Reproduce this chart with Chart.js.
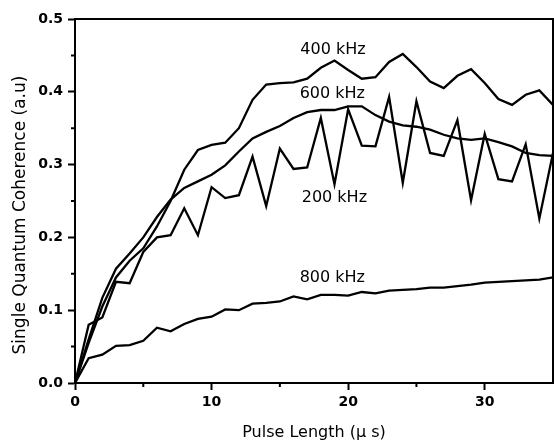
<!DOCTYPE html>
<html lang="en">
<head>
    <meta charset="UTF-8">
    <title>Single Quantum Coherence vs Pulse Length</title>
    <script src="https://cdn.jsdelivr.net/npm/chart.js"></script>
    <style>
        body { margin: 0; background: #fff; }
        canvas { display: block; }
    </style>
</head>
<body>
    <canvas id="sqcChart" width="554" height="442"></canvas>
    <script>
        // pulse length in microseconds
        var pulseLengths = [0, 1, 2, 3, 4, 5, 6, 7, 8, 9, 10, 11, 12, 13, 14, 15, 16, 17,
                            18, 19, 20, 21, 22, 23, 24, 25, 26, 27, 28, 29, 30, 31, 32, 33, 34, 35];

        var sqc400 = [0, 0.055, 0.105, 0.145, 0.168, 0.185, 0.215, 0.25, 0.293, 0.320, 0.327, 0.330,
                      0.350, 0.389, 0.410, 0.412, 0.413, 0.418, 0.433, 0.443, 0.430, 0.418, 0.420, 0.441,
                      0.452, 0.434, 0.414, 0.405, 0.422, 0.431, 0.412, 0.390, 0.382, 0.396, 0.402, 0.382];

        var sqc600 = [0, 0.06, 0.117, 0.157, 0.178, 0.2, 0.228, 0.252, 0.268, 0.277, 0.286, 0.299,
                      0.318, 0.336, 0.345, 0.353, 0.364, 0.372, 0.375, 0.375, 0.380, 0.380, 0.368, 0.359,
                      0.354, 0.352, 0.348, 0.341, 0.336, 0.334, 0.336, 0.331, 0.325, 0.316, 0.313, 0.312];

        var sqc200 = [0, 0.080, 0.09, 0.139, 0.137, 0.180, 0.200, 0.203, 0.240, 0.203, 0.269, 0.254,
                      0.258, 0.311, 0.243, 0.322, 0.294, 0.296, 0.364, 0.273, 0.376, 0.326, 0.325, 0.393,
                      0.275, 0.387, 0.316, 0.312, 0.361, 0.251, 0.342, 0.280, 0.277, 0.328, 0.226, 0.316];

        var sqc800 = [0, 0.034, 0.039, 0.051, 0.052, 0.058, 0.076, 0.071, 0.081, 0.088, 0.091, 0.101,
                      0.100, 0.109, 0.110, 0.112, 0.119, 0.115, 0.121, 0.121, 0.120, 0.125, 0.123, 0.127,
                      0.128, 0.129, 0.131, 0.131, 0.133, 0.135, 0.138, 0.139, 0.140, 0.141, 0.142, 0.145];

        var seriesNames = ['400 kHz', '600 kHz', '200 kHz', '800 kHz'];
        var seriesValues = [sqc400, sqc600, sqc200, sqc800];

        var xTicks = [0, 10, 20, 30];
        var yTicks = [0, 0.1, 0.2, 0.3, 0.4, 0.5];

        // where the curve names sit (left edge, middle), in data units
        var notePlaces = {
            '400 kHz': [16.5, 0.457],
            '600 kHz': [16.45, 0.397],
            '200 kHz': [16.6, 0.254],
            '800 kHz': [16.45, 0.145]
        };

        function toPoints(ys) {
            return pulseLengths.map(function (x, i) { return { x: x, y: ys[i] }; });
        }

        var datasets = seriesNames.map(function (name, i) {
            return {
                label: name,
                data: toPoints(seriesValues[i]),
                borderColor: '#000',
                borderWidth: 2.3,
                pointRadius: 0,
                tension: 0,
                fill: false
            };
        });

        // box round the plot, minor ticks, curve names, y title
        var extras = {
            id: 'extras',
            afterDraw: function (chart) {
                var ctx = chart.ctx;
                var a = chart.chartArea;
                var xs = chart.scales.x, ys = chart.scales.y;
                ctx.save();
                ctx.strokeStyle = '#000';
                ctx.lineWidth = 2;
                ctx.strokeRect(a.left, a.top, a.right - a.left, a.bottom - a.top);

                ctx.beginPath();
                [5, 15, 25].forEach(function (v) {
                    var px = xs.getPixelForValue(v);
                    ctx.moveTo(px, a.bottom);
                    ctx.lineTo(px, a.bottom + 4);
                });
                [0.05, 0.15, 0.25, 0.35, 0.45].forEach(function (v) {
                    var py = ys.getPixelForValue(v);
                    ctx.moveTo(a.left, py);
                    ctx.lineTo(a.left - 4, py);
                });
                ctx.stroke();

                ctx.fillStyle = '#000';
                ctx.font = '16px "DejaVu Sans"';
                ctx.textAlign = 'left';
                ctx.textBaseline = 'middle';
                seriesNames.forEach(function (name) {
                    var p = notePlaces[name];
                    ctx.fillText(name, xs.getPixelForValue(p[0]), ys.getPixelForValue(p[1]));
                });

                ctx.font = '17px "DejaVu Sans"';
                ctx.translate(21, 215);
                ctx.rotate(-Math.PI / 2);
                ctx.textAlign = 'center';
                ctx.fillText('Single Quantum Coherence (a.u)', 0, 0);
                ctx.restore();
            }
        };

        Chart.defaults.font.family = '"DejaVu Sans"';
        Chart.defaults.color = '#000';

        new Chart(document.getElementById('sqcChart'), {
            type: 'line',
            data: { datasets: datasets },
            options: {
                responsive: false,
                animation: false,
                layout: { padding: { top: 19, right: 1, left: 0, bottom: 0 } },
                plugins: { legend: { display: false }, tooltip: { enabled: false } },
                scales: {
                    x: {
                        type: 'linear',
                        min: 0,
                        max: 35,
                        afterBuildTicks: function (scale) {
                            scale.ticks = xTicks.map(function (v) { return { value: v }; });
                        },
                        afterFit: function (scale) { scale.height = 59; },
                        ticks: { font: { size: 14, weight: 'bold' }, padding: 4, maxRotation: 0 },
                        grid: { drawOnChartArea: false, tickLength: 7, tickWidth: 2, tickColor: '#000' },
                        border: { color: '#000', width: 2 },
                        title: {
                            display: true,
                            text: 'Pulse Length (\u03bc s)',
                            font: { size: 16 },
                            padding: { top: 0, bottom: 0 }
                        }
                    },
                    y: {
                        min: 0,
                        max: 0.5,
                        afterBuildTicks: function (scale) {
                            scale.ticks = yTicks.map(function (v) { return { value: v }; });
                        },
                        afterFit: function (scale) { scale.width = 75; },
                        ticks: {
                            font: { size: 14, weight: 'bold' },
                            padding: 5,
                            callback: function (v) { return v.toFixed(1); }
                        },
                        grid: { drawOnChartArea: false, tickLength: 7, tickWidth: 2, tickColor: '#000' },
                        border: { color: '#000', width: 2 }
                    }
                }
            },
            plugins: [extras]
        });
    </script>
</body>
</html>
